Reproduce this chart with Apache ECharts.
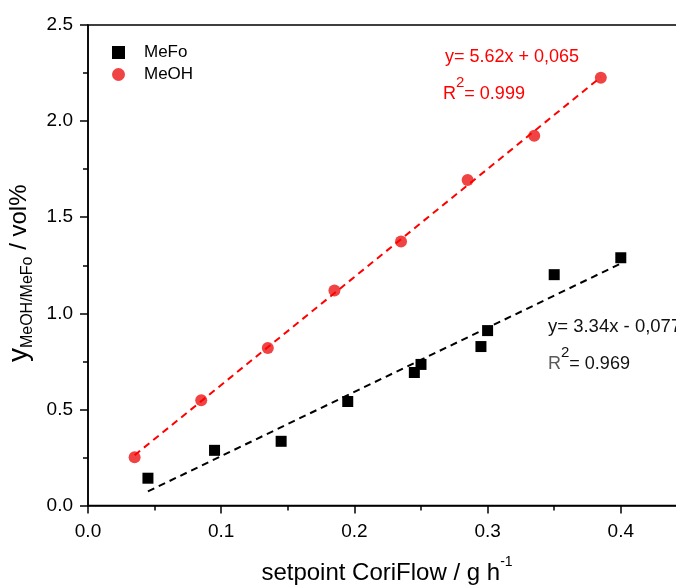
<!DOCTYPE html>
<html>
<head>
<meta charset="utf-8">
<script src="https://cdn.jsdelivr.net/npm/echarts@6/dist/echarts.min.js"></script>
<style>
  html, body { margin: 0; padding: 0; background: #fff; }
  #chart { width: 676px; height: 586px; }
</style>
</head>
<body>
<div id="chart"></div>
<script>
// Methyl formate (MeFo) measurements: CoriFlow setpoint (g/h) vs. vol%
const mefoX = [0.045, 0.095, 0.145, 0.195, 0.245, 0.250, 0.295, 0.300, 0.350, 0.400];
const mefoY = [0.142, 0.287, 0.334, 0.541, 0.692, 0.734, 0.827, 0.910, 1.201, 1.289];

// Methanol (MeOH) measurements
const meohX = [0.035, 0.085, 0.135, 0.185, 0.235, 0.285, 0.335, 0.385];
const meohY = [0.251, 0.548, 0.820, 1.119, 1.374, 1.694, 1.924, 2.225];

// Linear fits (slope, intercept) as printed next to each series
const meohFit = { slope: 5.62, intercept: 0.065 };
const mefoFit = { slope: 3.34, intercept: -0.077 };

// Axis tick values
const xTicks = [0.0, 0.1, 0.2, 0.3, 0.4];
const yTicks = [0.0, 0.5, 1.0, 1.5, 2.0, 2.5];

const FONT = 'Liberation Sans, Arial, sans-serif';

function pairs(xs, ys) { return xs.map((x, i) => [x, ys[i]]); }
function fitLine(fit, xs) {
  const x0 = Math.min(...xs), x1 = Math.max(...xs);
  return [[x0, fit.slope * x0 + fit.intercept], [x1, fit.slope * x1 + fit.intercept]];
}

const chart = echarts.init(document.getElementById('chart'), null, { renderer: 'canvas' });

const axisLine = { show: true, onZero: false, lineStyle: { color: '#000', width: 1.5 } };

chart.setOption({
  animation: false,
  backgroundColor: '#fff',
  grid: {
    left: 88, top: 25, width: 666, height: 480.5,
    outerBoundsMode: 'none', containLabel: false,
    show: true, borderColor: '#000', borderWidth: 1.5, backgroundColor: 'transparent'
  },
  legend: {
    orient: 'vertical',
    left: 107,
    top: 39,
    itemGap: 5,
    itemWidth: 13,
    itemHeight: 13,
    textStyle: { fontFamily: FONT, fontSize: 17, color: '#000', padding: [0, 0, 0, 14] },
    data: [
      { name: 'MeFo', icon: 'rect' },
      { name: 'MeOH', icon: 'circle' }
    ]
  },
  xAxis: {
    type: 'value',
    min: 0,
    max: 0.5,
    interval: 0.1,
    name: '{t|setpoint CoriFlow / g h}{sup|-1}',
    nameLocation: 'middle',
    nameGap: 50,
    nameTextStyle: {
      padding: [0, 68, 0, 0],
      rich: {
        t: { fontFamily: FONT, fontSize: 24, color: '#000', lineHeight: 30, verticalAlign: 'bottom' },
        sup: { fontFamily: FONT, fontSize: 14, color: '#000', lineHeight: 30, verticalAlign: 'top' }
      }
    },
    axisLine: axisLine,
    axisTick: { show: true, inside: false, length: 8, lineStyle: { color: '#000', width: 1.5 } },
    minorTick: { show: true, splitNumber: 2, length: 5, lineStyle: { color: '#000', width: 1.5 } },
    splitLine: { show: false },
    axisLabel: {
      margin: 17,
      fontFamily: FONT, fontSize: 19, color: '#000',
      formatter: v => xTicks.some(t => Math.abs(t - v) < 1e-9) ? v.toFixed(1) : ''
    }
  },
  yAxis: {
    type: 'value',
    min: 0,
    max: 2.5,
    interval: 0.5,
    name: '{y|y}{sub|MeOH/MeFo}{n| / vol%}',
    nameLocation: 'middle',
    nameRotate: 90,
    nameGap: 52,
    nameTextStyle: {
      padding: [0, 16, 0, 0],
      rich: {
        y: { fontFamily: FONT, fontSize: 28, color: '#000', lineHeight: 32, verticalAlign: 'middle' },
        n: { fontFamily: FONT, fontSize: 24, color: '#000', lineHeight: 32, verticalAlign: 'middle' },
        sub: { fontFamily: FONT, fontSize: 16, color: '#000', lineHeight: 16, verticalAlign: 'bottom' }
      }
    },
    axisLine: axisLine,
    axisTick: { show: true, inside: false, length: 8, lineStyle: { color: '#000', width: 1.5 } },
    minorTick: { show: true, splitNumber: 2, length: 5, lineStyle: { color: '#000', width: 1.5 } },
    splitLine: { show: false },
    axisLabel: {
      margin: 15,
      fontFamily: FONT, fontSize: 19, color: '#000',
      formatter: v => yTicks.some(t => Math.abs(t - v) < 1e-9) ? v.toFixed(1) : ''
    }
  },
  series: [
    {
      name: 'MeFo',
      type: 'scatter',
      symbol: 'rect',
      symbolSize: 11,
      itemStyle: { color: '#000', opacity: 1 },
      data: pairs(mefoX, mefoY),
      z: 3
    },
    {
      name: 'MeOH',
      type: 'scatter',
      symbol: 'circle',
      symbolSize: 12,
      itemStyle: { color: '#f04444', opacity: 1 },
      data: pairs(meohX, meohY),
      z: 3
    },
    {
      name: 'MeFo fit',
      type: 'line',
      showSymbol: false,
      symbol: 'none',
      lineStyle: { color: '#000', width: 2, type: [7, 5] },
      data: fitLine(mefoFit, mefoX),
      z: 4,
      silent: true
    },
    {
      name: 'MeOH fit',
      type: 'line',
      showSymbol: false,
      symbol: 'none',
      lineStyle: { color: '#ff0000', width: 2, type: [7, 5] },
      data: fitLine(meohFit, meohX),
      z: 4,
      silent: true
    }
  ],
  graphic: [
    {
      type: 'text', left: 445, top: 48,
      style: { text: 'y= 5.62x + 0,065', fontFamily: FONT, fontSize: 18, fill: '#ff0000' }
    },
    {
      type: 'text', left: 443, top: 75,
      style: {
        text: '{b|R}{s|2}{b|= 0.999}',
        rich: {
          b: { fontFamily: FONT, fontSize: 18, fill: '#ff0000', lineHeight: 28, verticalAlign: 'bottom' },
          s: { fontFamily: FONT, fontSize: 15, fill: '#ff0000', lineHeight: 28, verticalAlign: 'top' }
        }
      }
    },
    {
      type: 'text', left: 548, top: 317,
      style: { text: 'y= 3.34x - 0,077', fontFamily: FONT, fontSize: 18.5, fill: '#111' }
    },
    {
      type: 'text', left: 548, top: 345,
      style: {
        text: '{g|R}{s|2}{b|= 0.969}',
        rich: {
          g: { fontFamily: FONT, fontSize: 18, fill: '#5a5a5a', lineHeight: 28, verticalAlign: 'bottom' },
          b: { fontFamily: FONT, fontSize: 18, fill: '#111', lineHeight: 28, verticalAlign: 'bottom' },
          s: { fontFamily: FONT, fontSize: 15, fill: '#111', lineHeight: 28, verticalAlign: 'top' }
        }
      }
    }
  ]
});
</script>
</body>
</html>
